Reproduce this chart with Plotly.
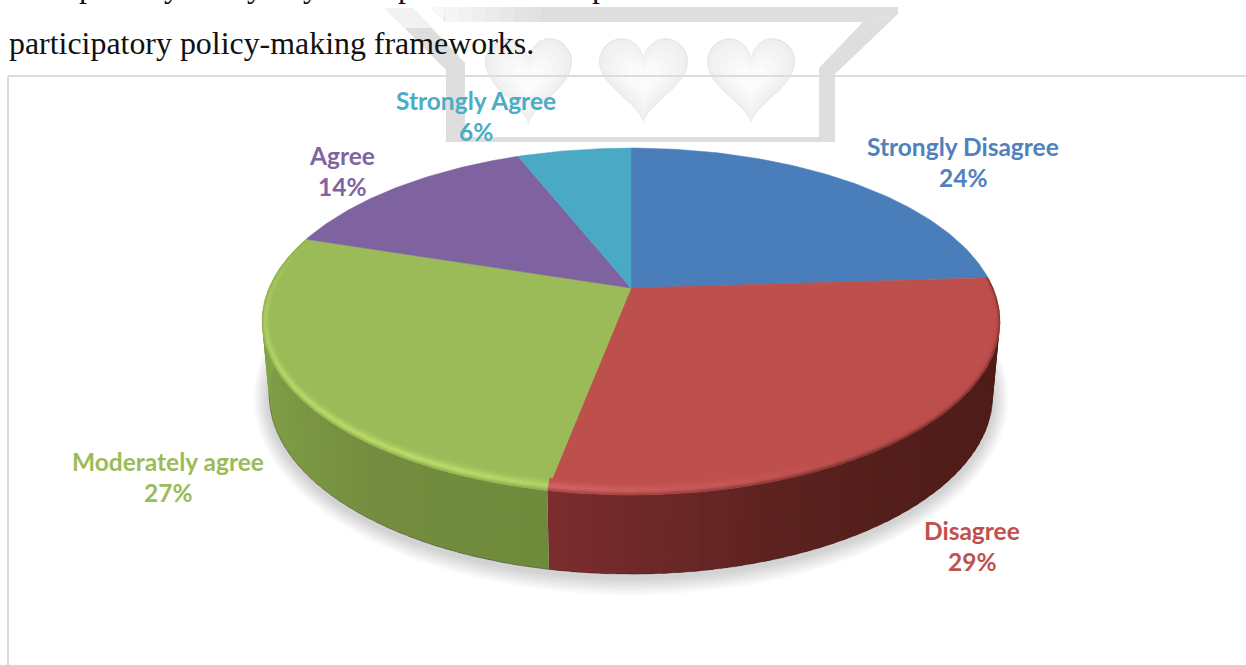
import math
import plotly.graph_objects as go

# Survey responses shown in the pie
categories = ["Strongly Disagree", "Disagree", "Moderately agree", "Agree", "Strongly Agree"]
shares = [24, 29, 27, 14, 6]

# Styling per category
face_colors = ["#4a7ebb", "#bd4f4c", "#9bbb59", "#7f62a0", "#4aa9c5"]
label_colors = ["#4f81bd", "#c0504d", "#9bbb59", "#8064a2", "#4bacc6"]
label_centers = [(963, 146), (972, 530), (168, 461), (342, 155), (476, 100)]
LINE_GAP = 31

WIDTH, HEIGHT = 1246, 665

# Perspective parameters of the disc: top rim and bottom rim
CX = 631
K = -0.193
TOP = dict(R=362.0, A=167.0, apex=288.0)
BOTTOM = dict(R=355.0, A=172.4, apex=360.5)

# Wall shading along the rim, as (angle, colour) stops
WALL_STOPS = {
    1: [(86.0, "#4c1b17"), (140.0, "#521d1a"), (160.0, "#5c2220"), (175.0, "#6b2727"), (191.0, "#7c2d2e")],
    2: [(190.0, "#6d8b3b"), (215.0, "#748c3f"), (240.0, "#7c9a44"), (270.0, "#82a64a"), (288.0, "#86aa4c")],
}
# Bevel highlight strength along the rim
BEVEL_STOPS = {
    1: [(86.0, 0.0), (145.0, 0.0), (160.0, 0.25), (175.0, 0.55), (191.0, 0.9)],
    2: [(190.0, 0.75), (205.0, 1.0), (240.0, 0.9), (262.0, 0.55), (288.0, 0.0)],
}
HIGHLIGHT = {1: "#d9686a", 2: "#bede6c"}
RING_EDGES = [0.06, 0.05, 0.04, 0.03, 0.02, 0.012, 0.005, 0.0]
RING_GLOW = [0.12, 0.3, 0.6, 0.95, 0.9, 0.55, 0.25]
RING_DARK = [0.0, 0.0, 0.0, 0.03, 0.1, 0.3, 0.6]


def to_rgb(h):
    return tuple(int(h[i:i + 2], 16) for i in (1, 3, 5))


def mix(a, b, f):
    ca, cb = to_rgb(a), to_rgb(b)
    return "#%02x%02x%02x" % tuple(round(x + (y - x) * f) for x, y in zip(ca, cb))


def color_at(stops, t):
    if t <= stops[0][0]:
        return stops[0][1]
    for (t0, c0), (t1, c1) in zip(stops, stops[1:]):
        if t <= t1:
            return mix(c0, c1, (t - t0) / (t1 - t0))
    return stops[-1][1]


def value_at(stops, t):
    if t <= stops[0][0]:
        return stops[0][1]
    for (t0, v0), (t1, v1) in zip(stops, stops[1:]):
        if t <= t1:
            return v0 + (v1 - v0) * (t - t0) / (t1 - t0)
    return stops[-1][1]


def project(t, rim, inset=0.0):
    """Map a clockwise angle on the disc to plot coordinates."""
    rad = math.radians(t)
    u, v = math.sin(rad), -math.cos(rad)
    d = 1 + K * v
    return (CX + rim["R"] * u / d * (1 - inset * 0.35),
            rim["apex"] + rim["A"] * v / d * (1 - inset))


def frange(a, b, step):
    n = max(1, math.ceil((b - a) / step))
    return [a + (b - a) * i / n for i in range(n + 1)]


def polygon(points, color, line=0.6):
    xs = [p[0] for p in points] + [points[0][0]]
    ys = [p[1] for p in points] + [points[0][1]]
    if line == 0:
        return go.Scatter(x=xs, y=ys, mode="none", fill="toself", fillcolor=color,
                          hoverinfo="skip", showlegend=False)
    return go.Scatter(x=xs, y=ys, mode="lines", fill="toself", fillcolor=color,
                      line=dict(color=color, width=line), hoverinfo="skip", showlegend=False)


# Slice boundaries in degrees, clockwise from twelve o'clock
total = sum(shares)
edges = [0.0]
for s in shares:
    edges.append(edges[-1] + 360.0 * s / total)

fig = go.Figure()

# Soft drop shadow below the disc
for i in range(9, 0, -1):
    pts = [(CX + (362 + i * 1.7) * math.cos(math.radians(a)),
            398 + (179 + i * 2.0) * math.sin(math.radians(a))) for a in range(0, 360, 3)]
    fig.add_trace(go.Scatter(x=[p[0] for p in pts], y=[p[1] for p in pts], mode="none", fill="toself",
                             fillcolor="rgba(90,90,90,0.028)", hoverinfo="skip", showlegend=False))

# Side wall, built from narrow quads between the two rims; each one overlaps its neighbour
for idx in (1, 2):
    ts = frange(edges[idx], edges[idx + 1], 2.0)
    for t0, t1 in zip(ts, ts[1:]):
        t1b = min(t1 + 1.0, edges[idx + 1])
        quad = [project(t0, TOP), project(t1b, TOP), project(t1b, BOTTOM), project(t0, BOTTOM)]
        fig.add_trace(polygon(quad, color_at(WALL_STOPS[idx], (t0 + t1) / 2), line=0))

# Dark seam along the visible part of the lower rim
seam = [project(t, BOTTOM) for t in frange(101.0, 259.0, 2.0)]
fig.add_trace(go.Scatter(x=[p[0] for p in seam], y=[p[1] for p in seam], mode="lines",
                         line=dict(color="rgba(30,20,10,0.3)", width=1.0),
                         hoverinfo="skip", showlegend=False))

# Flat top faces
apex = (CX, TOP["apex"])
for idx, color in enumerate(face_colors):
    arc = [project(t, TOP) for t in frange(edges[idx], edges[idx + 1], 1.0)]
    fig.add_trace(polygon([apex] + arc, color, line=0.5))

# Bevel along the front of the top rim
for idx in (1, 2):
    ts = frange(edges[idx], edges[idx + 1], 4.0)
    for t0, t1 in zip(ts, ts[1:]):
        tm = (t0 + t1) / 2
        w = value_at(BEVEL_STOPS[idx], tm)
        wall = color_at(WALL_STOPS[idx], tm)
        for ring in range(len(RING_GLOW)):
            c = mix(face_colors[idx], HIGHLIGHT[idx], w * RING_GLOW[ring])
            c = mix(c, wall, RING_DARK[ring] * (1 - w * 0.6))
            a, b = RING_EDGES[ring], RING_EDGES[ring + 1]
            quad = [project(t0, TOP, a), project(t1, TOP, a), project(t1, TOP, b), project(t0, TOP, b)]
            fig.add_trace(polygon(quad, c, line=0.4))

# Page furniture behind the chart: crest outline, hearts and the chart frame
CREST = "#dedede"
shapes = []


def crest_part(points, color):
    path = "M " + " L ".join(f"{x},{y}" for x, y in points) + " Z"
    shapes.append(dict(type="path", path=path, fillcolor=color, line=dict(width=0),
                       layer="below", xref="x", yref="y"))


crest_part([(430, 7), (898, 7), (898, 14), (863, 22), (445, 22)], CREST)
# Top bar fades out towards its left end
for k in range(8):
    x0 = 430 + k * 14
    crest_part([(x0, 7), (x0 + 14, 7), (x0 + 14, 22), (max(x0, 445), 22)],
               mix("#f8f8f8", CREST, k / 8))
crest_part([(863, 22), (898, 14), (835, 74), (835, 142), (819, 142), (819, 68)], CREST)
crest_part([(385, 8), (413, 8), (465, 63), (465, 137), (835, 137), (835, 142), (446, 142), (446, 70)], CREST)
crest_part([(385, 8), (413, 8), (432, 28), (405, 28)], "#f2f2f2")


def heart(x0, x1, y0, y1, scale):
    cx, cy = (x0 + x1) / 2, (y0 + y1) / 2
    pts = []
    for a in range(0, 360, 6):
        r = math.radians(a)
        hx = 16 * math.sin(r) ** 3
        hy = 13 * math.cos(r) - 5 * math.cos(2 * r) - 2 * math.cos(3 * r) - math.cos(4 * r)
        pts.append((round(cx + hx / 16 * (x1 - x0) / 2 * scale, 1),
                    round(cy - (hy + 2.5) / 14.5 * (y1 - y0) / 2 * scale, 1)))
    return pts


for box in [(485, 572, 38, 125), (599, 688, 38, 123), (707, 795, 38, 124)]:
    for scale, col in [(1.0, "#e4e4e4"), (0.975, "#efefef"), (0.88, "#f2f2f2"),
                       (0.72, "#f5f5f5"), (0.55, "#f8f8f8"), (0.38, "#fbfbfb")]:
        crest_part(heart(*box, scale), col)

FRAME = "#dcdcdc"
shapes.append(dict(type="line", x0=8, x1=WIDTH, y0=76, y1=76, line=dict(color=FRAME, width=2),
                   layer="below", xref="x", yref="y"))
shapes.append(dict(type="line", x0=8, x1=8, y0=76, y1=665, line=dict(color=FRAME, width=2),
                   layer="below", xref="x", yref="y"))

annotations = []
for name, share, color, (x, y) in zip(categories, shares, label_colors, label_centers):
    for line, yy in ((name, y), (f"{share}%", y + LINE_GAP)):
        annotations.append(dict(x=x, y=yy, xref="x", yref="y", showarrow=False,
                                xanchor="center", yanchor="middle", text=f"<b>{line}</b>",
                                font=dict(family="Lato", size=24.5, color=color)))

# Running text of the surrounding page
annotations.append(dict(x=7, y=43, xref="x", yref="y", showarrow=False, xanchor="left", yanchor="middle",
                        text="participatory policy-making frameworks.",
                        font=dict(family="Liberation Serif", size=31.9, color="#111111")))

# Tails of the letters from the line above, which runs off the top of the page
tail_glyphs = [("p", 87), ("y", 172), ("y", 255), ("y", 311), ("p", 406), ("p", 600)]
for glyph, gx in tail_glyphs:
    annotations.append(dict(x=gx, y=1, xref="x", yref="paper", yshift=14, showarrow=False,
                            xanchor="center", yanchor="middle", text=glyph,
                            font=dict(family="Liberation Serif", size=31.9, color="#111111")))

fig.update_layout(
    width=WIDTH, height=HEIGHT, margin=dict(l=0, r=0, t=0, b=0),
    paper_bgcolor="white", plot_bgcolor="white", showlegend=False,
    xaxis=dict(range=[0, WIDTH], visible=False, fixedrange=True),
    yaxis=dict(range=[HEIGHT, 0], visible=False, fixedrange=True),
    shapes=shapes, annotations=annotations,
)

fig.write_html("out.html", config=dict(displayModeBar=False))
